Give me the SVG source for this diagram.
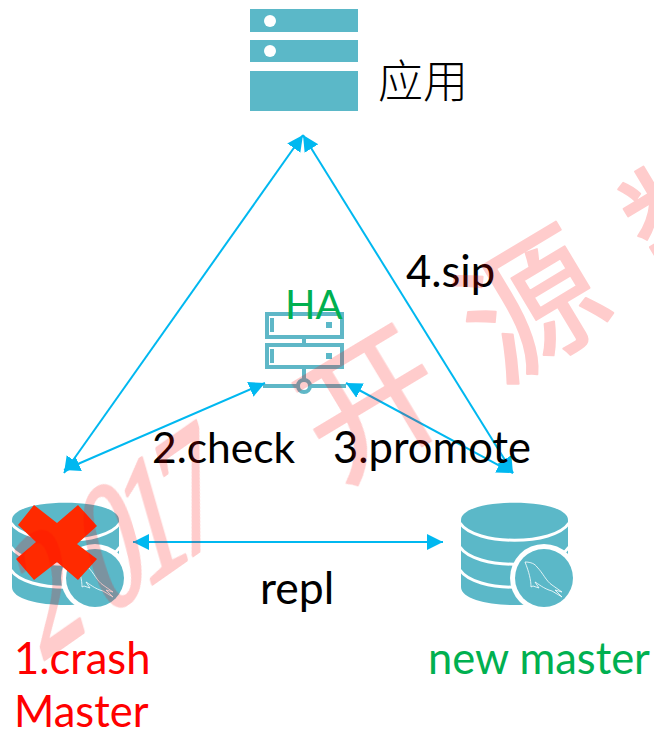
<svg xmlns="http://www.w3.org/2000/svg" width="654" height="730" viewBox="0 0 654 730">
<style>
.t{font-family:"Lato","Open Sans","Noto Sans CJK SC",sans-serif;font-size:43.5px;fill:#000}
.teal{fill:#5bb8c8}
.ln{stroke:#00b8f0;stroke-width:2;fill:none;marker-start:url(#a);marker-end:url(#a)}
.hl{stroke:#5fb7c7;stroke-width:4;fill:none}
.wl{stroke:#fff;stroke-width:3;fill:none}
.dol{stroke:#fff;stroke-width:0.8;fill:none}
.wm{font-family:"Noto Sans CJK SC",sans-serif;font-size:140px;fill:#f00;stroke:#f00;stroke-width:2;stroke-linejoin:round;text-anchor:middle}
.wd{font-family:"Liberation Serif",serif;font-size:165px;fill:#f00;stroke:#f00;stroke-width:4;stroke-linejoin:round}
</style>
<defs>
<marker id="a" markerUnits="userSpaceOnUse" markerWidth="18" markerHeight="18" refX="16" refY="9" orient="auto-start-reverse"><path d="M0 1L16 9L0 17Z" fill="#00b8f0"/></marker>
<g id="db">
<path class="teal" d="M0 0C0 -23 107 -23 107 0V67C107 91 0 91 0 67Z"/>
<path class="wl" d="M-1 3C14 26 93 26 108 3M-1 27C14 50 93 50 108 27M-1 50C14 73 93 73 108 50"/>
<circle cx="83" cy="58" r="34" fill="#fff"/>
<circle cx="83" cy="58" r="29" class="teal"/>
<path class="dol" d="M64 42C70 42 74 44 76 47C82 53 85 61 91 65L101 72L94 70L101 77L91 71C83 69 76 63 74 62L78 68L72 66L70 67C70 60 68 52 64 42Z"/>
</g>
</defs>
<g id="app">
<rect class="teal" x="250" y="9" width="108" height="23"/>
<rect class="teal" x="250" y="40" width="108" height="22"/>
<rect class="teal" x="250" y="71" width="108" height="40"/>
<circle cx="270" cy="21" r="6" fill="#fff"/>
<circle cx="270" cy="51" r="6" fill="#fff"/>
<text x="378" y="98" style="font-family:'Noto Sans CJK SC',sans-serif;font-size:45px;font-weight:300">应用</text>
</g>
<g id="ha">
<rect class="hl" x="267" y="314" width="75" height="23"/>
<rect class="hl" x="267" y="345" width="75" height="22"/>
<path class="hl" d="M272 318V332M272 349V363M304 337V345M304 367V381M263 386H298M310 386H346"/>
<rect class="teal" x="326" y="322" width="6" height="6"/>
<rect class="teal" x="326" y="353" width="6" height="6"/>
<circle class="hl" cx="304" cy="386" r="6" style="fill:#fff"/>
<text x="285" y="319" class="t" style="fill:#00b050;font-size:40px">HA</text>
</g>
<g id="master-old">
<use href="#db" x="12" y="520"/>
<path fill="#ff2a00" d="M34 505L57 523L78 505L97 526L77 544L97 559L78 580L57 562L34 580L16 559L36 542L18 525Z"/>
<text x="14" y="674" class="t" style="fill:#f00">1.crash</text>
<text x="14" y="727" class="t" style="fill:#f00">Master</text>
</g>
<g id="master-new">
<use href="#db" x="461" y="520"/>
<text x="428" y="674" class="t" style="fill:#00b050">new master</text>
</g>
<g id="connectors">
<path class="ln" d="M64 473L303 135"/>
<path class="ln" d="M513 473L303 135"/>
<path class="ln" d="M64 470L265 383"/>
<path class="ln" d="M513 473L346 383"/>
<path class="ln" d="M133 542H443"/>
</g>
<g id="labels">
<text x="406" y="287" class="t">4.sip</text>
<text x="152" y="463" class="t" style="font-size:42.5px">2.check</text>
<text x="333" y="463" class="t">3.promote</text>
<text x="260" y="604" class="t" style="font-size:44.5px">repl</text>
</g>
<g id="watermark" opacity=".2">
<text class="wd" x="0 108 176 240" transform="translate(40 662) rotate(-35) skewX(-19) scale(.72 1)">2017</text>
<text class="wm" y="50" transform="translate(372 404) rotate(-31)">开</text>
<text class="wm" y="50" transform="translate(533 306) rotate(-31)">源</text>
<text class="wm" y="50" transform="translate(699 212) rotate(-31)">数</text>
</g>
</svg>
